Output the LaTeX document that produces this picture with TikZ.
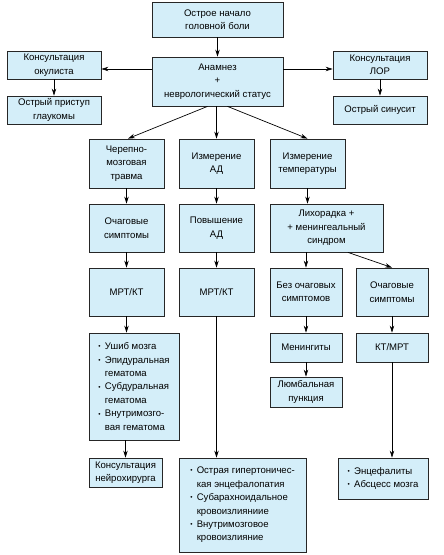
\documentclass[tikz,border=0pt]{standalone}
\usepackage{fontspec}
\setmainfont{Liberation Sans}
\usetikzlibrary{arrows.meta}

\definecolor{boxblue}{RGB}{212,238,249}

\tikzset{
  box/.style={draw=black!85, fill=boxblue, line width=0.8pt, align=center,
    inner sep=0pt, font=\fontsize{9.6}{13.5}\selectfont},
  arr/.style={-{Stealth[length=7pt,width=4.5pt]}, line width=0.7pt},
}

\newcommand\itm{\makebox[6.5bp][l]{\raisebox{0.8pt}{\fontsize{6.5}{6.5}\selectfont\textbullet}}}
\newcommand\ind{\hspace*{6.5bp}}

\begin{document}
\begin{tikzpicture}[x=1bp,y=-1bp]
  \useasboundingbox (0,0) rectangle (444,555);

  \newcommand\colW{75bp}
  \newcommand\rowH{48bp}

  % top
  \node[box, minimum width=131bp, minimum height=35bp] (onset) at (217.5,19.5) {Острое начало\\головной боли};
  \node[box, minimum width=131bp, minimum height=49bp] (anamn) at (217.5,81.5) {Анамнез\\+\\неврологический статус};

  % sides
  \node[box, minimum width=94bp, minimum height=28bp] (ocul) at (54,65) {Консультация\\окулиста};
  \node[box, minimum width=94bp, minimum height=28bp] (glauc) at (54,110) {Острый приступ\\глаукомы};
  \node[box, minimum width=94bp, minimum height=28bp] (lor) at (380,65) {Консультация\\ЛОР};
  \node[box, minimum width=94bp, minimum height=28bp] (sinus) at (380,110) {Острый синусит};

  % row 1
  \node[box, minimum width=\colW, minimum height=49bp] (trauma) at (126.5,163.5) {Черепно-\\мозговая\\травма};
  \node[box, minimum width=\colW, minimum height=49bp] (bpmeas) at (216.5,163.5) {Измерение\\АД};
  \node[box, minimum width=\colW, minimum height=49bp] (tmeas) at (307.5,163.5) {Измерение\\температуры};

  % row 2
  \node[box, minimum width=\colW, minimum height=\rowH] (focA) at (126.5,228) {Очаговые\\симптомы};
  \node[box, minimum width=\colW, minimum height=\rowH] (bphigh) at (216.5,228) {Повышение\\АД};
  \node[box, minimum width=113bp, minimum height=\rowH] (fever) at (326.5,228) {Лихорадка +\\+ менингеальный\\синдром};

  % row 3
  \node[box, minimum width=\colW, minimum height=\rowH] (mriA) at (126.5,292) {МРТ/КТ};
  \node[box, minimum width=\colW, minimum height=\rowH] (mriB) at (216.5,292) {МРТ/КТ};
  \node[box, minimum width=72bp, minimum height=\rowH] (nofoc) at (306,292) {Без очаговых\\симптомов};
  \node[box, minimum width=72bp, minimum height=\rowH] (focB) at (392,292) {Очаговые\\симптомы};

  % row 4
  \node[box, align=left, minimum width=90bp, minimum height=107bp] (lstA) at (134,386.5)
    {\itm Ушиб мозга\\\itm Эпидуральная\\\ind гематома\\\itm Субдуральная\\\ind гематома\\\itm Внутримозго-\\\ind вая гематома};
  \node[box, minimum width=72bp, minimum height=29bp] (mening) at (306,347.5) {Менингиты};
  \node[box, minimum width=72bp, minimum height=29bp] (ctmri) at (392,347.5) {КТ/МРТ};
  \node[box, minimum width=72bp, minimum height=30bp] (lumb) at (306,392) {Люмбальная\\пункция};

  % bottom
  \node[box, minimum width=73bp, minimum height=29bp] (neuro) at (125.5,472.5) {Консультация\\нейрохирурга};
  \node[box, align=left, minimum width=127bp, minimum height=94bp] (lstB) at (242.5,505)
    {\itm Острая гипертоничес-\\\ind кая энцефалопатия\\\itm Субарахноидальное\\\ind кровоизлияниие\\\itm Внутримозговое\\\ind кровоизлияние};
  \node[box, align=left, minimum width=90bp, minimum height=41bp] (lstC) at (383,478.5)
    {\itm Энцефалиты\\\itm Абсцесс мозга};

  % arrows
  \draw[arr] (onset) -- (anamn);
  \draw[arr] ([yshift=-4bp]ocul.east -| anamn.west) -- ([yshift=-4bp]ocul.east);
  \draw[arr] ([yshift=-4bp]lor.west -| anamn.east) -- ([yshift=-4bp]lor.west);
  \draw[arr] (ocul) -- (glauc);
  \draw[arr] (lor) -- (sinus);

  \draw[arr] ([xshift=-10bp]anamn.south) -- ([xshift=1.5bp]trauma.north);
  \draw[arr] (anamn.south -| bpmeas) -- (bpmeas);
  \draw[arr] ([xshift=10bp]anamn.south) -- (tmeas.north);

  \draw[arr] (trauma) -- (focA);
  \draw[arr] (focA) -- (mriA);
  \draw[arr] (mriA.south) -- (mriA.south |- lstA.north);
  \draw[arr] (neuro.north |- lstA.south) -- (neuro.north);

  \draw[arr] (bpmeas) -- (bphigh);
  \draw[arr] (bphigh) -- (mriB);
  \draw[arr] (mriB.south) -- (mriB.south |- lstB.north);

  \draw[arr] (tmeas.south) -- (tmeas.south |- fever.north);
  \draw[arr] (nofoc.north |- fever.south) -- (nofoc.north);
  \draw[arr] ([xshift=21.5bp]fever.south) -- (focB.north);
  \draw[arr] (nofoc) -- (mening);
  \draw[arr] (mening) -- (lumb);
  \draw[arr] (focB) -- (ctmri);
  \draw[arr] (ctmri.south) -- (ctmri.south |- lstC.north);

\end{tikzpicture}
\end{document}
